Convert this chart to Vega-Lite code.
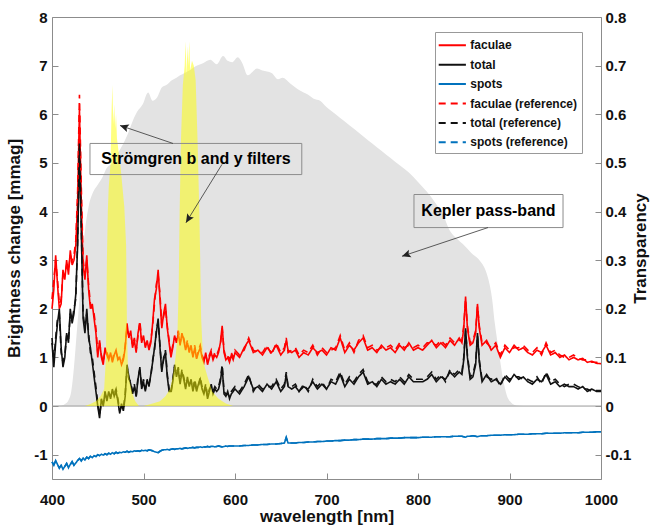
{
"$schema":"https://vega.github.io/schema/vega-lite/v6.json",
"width":549,"height":462,
"autosize":{"type":"none"},
"padding":{"left":52,"top":17,"right":56,"bottom":49},
"background":"white",
"config":{
 "font":"Liberation Sans",
 "view":{"stroke":"#8c8c8c","strokeWidth":1},
 "axis":{"labelFont":"Liberation Sans","labelFontWeight":"bold","labelFontSize":15,"labelColor":"#111","labelFlush":false,"titleFont":"Liberation Sans","titleFontWeight":"bold","titleFontSize":17,"titleColor":"#111","domain":false,"grid":false,"tickColor":"#8c8c8c","tickWidth":1}
},
"datasets":{
 "spec":[
{"w":400,"f":2.0,"t":1.3,"s":-1.15,"fr":2.2,"tr":1.4,"sr":-1.15},
{"w":402,"f":2.4,"t":0.8,"s":-1.22,"fr":2.6,"tr":0.9,"sr":-1.2},
{"w":404,"f":3.1,"t":1.3,"s":-1.12,"fr":3.0,"tr":1.4,"sr":-1.13},
{"w":406,"f":2.5,"t":1.7,"s":-1.2,"fr":2.6,"tr":1.8,"sr":-1.2},
{"w":408,"f":2.0,"t":2.0,"s":-1.28,"fr":2.1,"tr":1.9,"sr":-1.27},
{"w":410,"f":2.1,"t":1.2,"s":-1.22,"fr":2.2,"tr":1.1,"sr":-1.22},
{"w":412,"f":2.8,"t":0.8,"s":-1.3,"fr":2.7,"tr":0.9,"sr":-1.29},
{"w":414,"f":2.6,"t":1.0,"s":-1.24,"fr":2.7,"tr":1.05,"sr":-1.24},
{"w":416,"f":3.0,"t":1.5,"s":-1.18,"fr":2.9,"tr":1.45,"sr":-1.18},
{"w":418,"f":2.7,"t":1.3,"s":-1.27,"fr":2.8,"tr":1.35,"sr":-1.26},
{"w":420,"f":3.2,"t":2.0,"s":-1.2,"fr":3.1,"tr":1.9,"sr":-1.2},
{"w":422,"f":2.9,"t":1.7,"s":-1.14,"fr":3.0,"tr":1.75,"sr":-1.15},
{"w":424,"f":3.0,"t":1.9,"s":-1.22,"fr":3.1,"tr":2.0,"sr":-1.21},
{"w":426,"f":3.3,"t":2.3,"s":-1.17,"fr":3.4,"tr":2.2,"sr":-1.17},
{"w":428,"f":4.2,"t":3.3,"s":-1.12,"fr":4.4,"tr":3.4,"sr":-1.12},
{"w":430,"f":6.1,"t":5.3,"s":-1.08,"fr":6.4,"tr":5.4,"sr":-1.08},
{"w":432,"f":4.2,"t":3.6,"s":-1.13,"fr":4.5,"tr":3.7,"sr":-1.12},
{"w":434,"f":2.9,"t":1.8,"s":-1.07,"fr":3.0,"tr":1.9,"sr":-1.07},
{"w":436,"f":2.6,"t":1.5,"s":-1.11,"fr":2.7,"tr":1.6,"sr":-1.1},
{"w":438,"f":3.1,"t":2.0,"s":-1.05,"fr":3.0,"tr":1.9,"sr":-1.05},
{"w":440,"f":2.4,"t":1.4,"s":-1.08,"fr":2.5,"tr":1.5,"sr":-1.08},
{"w":442,"f":2.0,"t":1.2,"s":-1.03,"fr":2.1,"tr":1.1,"sr":-1.03},
{"w":444,"f":2.1,"t":0.9,"s":-1.06,"fr":2.0,"tr":1.0,"sr":-1.06},
{"w":446,"f":1.8,"t":0.6,"s":-1.02,"fr":1.9,"tr":0.7,"sr":-1.02},
{"w":448,"f":1.5,"t":0.3,"s":-1.04,"fr":1.6,"tr":0.4,"sr":-1.04},
{"w":450,"f":1.0,"t":0.0,"s":-1.0,"fr":1.1,"tr":0.05,"sr":-1.0},
{"w":452,"f":1.35,"t":-0.25,"s":-1.02,"fr":1.3,"tr":-0.2,"sr":-1.02},
{"w":454,"f":1.0,"t":0.15,"s":-0.99,"fr":1.05,"tr":0.1,"sr":-0.99},
{"w":456,"f":0.85,"t":0.0,"s":-1.01,"fr":0.9,"tr":0.05,"sr":-1.01},
{"w":458,"f":1.2,"t":0.3,"s":-0.98,"fr":1.15,"tr":0.25,"sr":-0.98},
{"w":460,"f":1.05,"t":0.1,"s":-1.0,"fr":1.1,"tr":0.15,"sr":-1.0},
{"w":462,"f":0.95,"t":0.3,"s":-0.97,"fr":1.0,"tr":0.25,"sr":-0.97},
{"w":464,"f":1.1,"t":0.15,"s":-0.99,"fr":1.05,"tr":0.2,"sr":-0.99},
{"w":466,"f":0.9,"t":0.35,"s":-0.96,"fr":0.95,"tr":0.3,"sr":-0.96},
{"w":468,"f":1.05,"t":0.2,"s":-0.98,"fr":1.1,"tr":0.25,"sr":-0.98},
{"w":470,"f":1.15,"t":0.3,"s":-0.95,"fr":1.1,"tr":0.35,"sr":-0.95},
{"w":472,"f":0.95,"t":0.1,"s":-0.97,"fr":1.0,"tr":0.15,"sr":-0.97},
{"w":474,"f":1.0,"t":-0.15,"s":-0.95,"fr":0.95,"tr":-0.1,"sr":-0.95},
{"w":476,"f":0.85,"t":0.05,"s":-0.96,"fr":0.9,"tr":0.0,"sr":-0.96},
{"w":478,"f":0.95,"t":-0.1,"s":-0.94,"fr":1.0,"tr":-0.05,"sr":-0.94},
{"w":480,"f":1.2,"t":0.2,"s":-0.95,"fr":1.25,"tr":0.25,"sr":-0.95},
{"w":482,"f":1.7,"t":0.85,"s":-0.93,"fr":1.6,"tr":0.8,"sr":-0.93},
{"w":484,"f":1.4,"t":0.6,"s":-0.95,"fr":1.45,"tr":0.55,"sr":-0.95},
{"w":486,"f":1.55,"t":0.45,"s":-0.93,"fr":1.5,"tr":0.5,"sr":-0.93},
{"w":488,"f":1.2,"t":0.25,"s":-0.94,"fr":1.25,"tr":0.3,"sr":-0.94},
{"w":490,"f":1.35,"t":0.4,"s":-0.92,"fr":1.4,"tr":0.45,"sr":-0.92},
{"w":492,"f":1.1,"t":0.2,"s":-0.93,"fr":1.15,"tr":0.2,"sr":-0.93},
{"w":494,"f":1.5,"t":0.55,"s":-0.92,"fr":1.45,"tr":0.6,"sr":-0.92},
{"w":496,"f":1.7,"t":0.8,"s":-0.93,"fr":1.75,"tr":0.75,"sr":-0.93},
{"w":498,"f":1.3,"t":0.35,"s":-0.91,"fr":1.35,"tr":0.4,"sr":-0.91},
{"w":500,"f":1.45,"t":0.5,"s":-0.92,"fr":1.4,"tr":0.55,"sr":-0.92},
{"w":502,"f":1.2,"t":0.3,"s":-0.91,"fr":1.25,"tr":0.35,"sr":-0.91},
{"w":504,"f":1.35,"t":0.55,"s":-0.92,"fr":1.3,"tr":0.5,"sr":-0.92},
{"w":506,"f":1.15,"t":0.4,"s":-0.9,"fr":1.2,"tr":0.45,"sr":-0.9},
{"w":508,"f":1.3,"t":0.65,"s":-0.91,"fr":1.35,"tr":0.6,"sr":-0.91},
{"w":510,"f":1.7,"t":0.9,"s":-0.92,"fr":1.65,"tr":0.95,"sr":-0.92},
{"w":512,"f":2.2,"t":1.2,"s":-0.94,"fr":2.1,"tr":1.15,"sr":-0.94},
{"w":514,"f":2.4,"t":1.5,"s":-0.95,"fr":2.5,"tr":1.55,"sr":-0.95},
{"w":516,"f":2.8,"t":1.8,"s":-0.96,"fr":2.7,"tr":1.75,"sr":-0.96},
{"w":518,"f":2.2,"t":1.2,"s":-0.93,"fr":2.3,"tr":1.25,"sr":-0.93},
{"w":520,"f":1.6,"t":0.7,"s":-0.91,"fr":1.65,"tr":0.75,"sr":-0.91},
{"w":522,"f":1.9,"t":1.0,"s":-0.9,"fr":1.85,"tr":0.95,"sr":-0.9},
{"w":524,"f":2.1,"t":1.1,"s":-0.9,"fr":2.0,"tr":1.15,"sr":-0.9},
{"w":526,"f":1.6,"t":0.6,"s":-0.89,"fr":1.65,"tr":0.65,"sr":-0.89},
{"w":528,"f":1.3,"t":0.3,"s":-0.9,"fr":1.35,"tr":0.35,"sr":-0.9},
{"w":530,"f":1.0,"t":0.3,"s":-0.89,"fr":1.05,"tr":0.25,"sr":-0.89},
{"w":532,"f":1.2,"t":0.5,"s":-0.88,"fr":1.25,"tr":0.55,"sr":-0.88},
{"w":534,"f":1.45,"t":0.85,"s":-0.89,"fr":1.4,"tr":0.8,"sr":-0.89},
{"w":536,"f":1.3,"t":0.6,"s":-0.88,"fr":1.35,"tr":0.65,"sr":-0.88},
{"w":538,"f":1.5,"t":0.75,"s":-0.88,"fr":1.55,"tr":0.8,"sr":-0.88},
{"w":540,"f":1.25,"t":0.45,"s":-0.87,"fr":1.3,"tr":0.5,"sr":-0.87},
{"w":542,"f":1.5,"t":0.7,"s":-0.88,"fr":1.45,"tr":0.75,"sr":-0.88},
{"w":544,"f":1.35,"t":0.55,"s":-0.87,"fr":1.4,"tr":0.6,"sr":-0.87},
{"w":546,"f":1.15,"t":0.35,"s":-0.86,"fr":1.2,"tr":0.4,"sr":-0.86},
{"w":548,"f":1.3,"t":0.6,"s":-0.87,"fr":1.35,"tr":0.55,"sr":-0.87},
{"w":550,"f":1.1,"t":0.4,"s":-0.86,"fr":1.15,"tr":0.45,"sr":-0.86},
{"w":552,"f":1.25,"t":0.55,"s":-0.86,"fr":1.2,"tr":0.5,"sr":-0.86},
{"w":554,"f":1.0,"t":0.3,"s":-0.85,"fr":1.05,"tr":0.35,"sr":-0.85},
{"w":556,"f":1.2,"t":0.5,"s":-0.86,"fr":1.25,"tr":0.55,"sr":-0.86},
{"w":558,"f":0.97,"t":0.3,"s":-0.85,"fr":1.0,"tr":0.35,"sr":-0.85},
{"w":560,"f":1.1,"t":0.45,"s":-0.85,"fr":1.15,"tr":0.4,"sr":-0.85},
{"w":562,"f":1.2,"t":0.55,"s":-0.84,"fr":1.25,"tr":0.6,"sr":-0.84},
{"w":564,"f":1.0,"t":0.35,"s":-0.85,"fr":1.05,"tr":0.4,"sr":-0.85},
{"w":566,"f":0.9,"t":0.25,"s":-0.84,"fr":0.95,"tr":0.3,"sr":-0.84},
{"w":568,"f":1.1,"t":0.4,"s":-0.84,"fr":1.05,"tr":0.45,"sr":-0.84},
{"w":570,"f":0.85,"t":0.15,"s":-0.83,"fr":0.9,"tr":0.2,"sr":-0.83},
{"w":572,"f":1.0,"t":0.3,"s":-0.84,"fr":1.05,"tr":0.35,"sr":-0.84},
{"w":574,"f":1.1,"t":0.45,"s":-0.83,"fr":1.15,"tr":0.4,"sr":-0.83},
{"w":576,"f":0.95,"t":0.25,"s":-0.83,"fr":1.0,"tr":0.3,"sr":-0.83},
{"w":578,"f":1.05,"t":0.35,"s":-0.84,"fr":1.1,"tr":0.4,"sr":-0.84},
{"w":580,"f":1.0,"t":0.3,"s":-0.83,"fr":1.05,"tr":0.35,"sr":-0.83},
{"w":582,"f":1.1,"t":0.35,"s":-0.82,"fr":1.15,"tr":0.4,"sr":-0.82},
{"w":584,"f":1.3,"t":0.5,"s":-0.83,"fr":1.25,"tr":0.55,"sr":-0.83},
{"w":586,"f":1.65,"t":0.8,"s":-0.84,"fr":1.6,"tr":0.85,"sr":-0.84},
{"w":588,"f":1.1,"t":0.25,"s":-0.83,"fr":1.15,"tr":0.3,"sr":-0.83},
{"w":590,"f":0.95,"t":0.2,"s":-0.82,"fr":1.0,"tr":0.25,"sr":-0.82},
{"w":592,"f":1.0,"t":0.3,"s":-0.83,"fr":1.05,"tr":0.25,"sr":-0.83},
{"w":594,"f":0.9,"t":0.15,"s":-0.82,"fr":0.95,"tr":0.2,"sr":-0.82},
{"w":596,"f":1.05,"t":0.25,"s":-0.82,"fr":1.1,"tr":0.3,"sr":-0.82},
{"w":598,"f":0.95,"t":0.3,"s":-0.82,"fr":1.0,"tr":0.35,"sr":-0.82},
{"w":600,"f":1.1,"t":0.35,"s":-0.82,"fr":1.15,"tr":0.4,"sr":-0.82},
{"w":605,"f":1.0,"t":0.25,"s":-0.82,"fr":1.05,"tr":0.3,"sr":-0.82},
{"w":610,"f":1.2,"t":0.4,"s":-0.81,"fr":1.15,"tr":0.45,"sr":-0.81},
{"w":615,"f":1.35,"t":0.6,"s":-0.81,"fr":1.4,"tr":0.65,"sr":-0.81},
{"w":620,"f":1.1,"t":0.35,"s":-0.8,"fr":1.15,"tr":0.3,"sr":-0.8},
{"w":625,"f":1.15,"t":0.4,"s":-0.8,"fr":1.1,"tr":0.45,"sr":-0.8},
{"w":630,"f":1.05,"t":0.3,"s":-0.79,"fr":1.1,"tr":0.35,"sr":-0.79},
{"w":635,"f":1.2,"t":0.45,"s":-0.79,"fr":1.25,"tr":0.4,"sr":-0.79},
{"w":640,"f":1.1,"t":0.35,"s":-0.78,"fr":1.05,"tr":0.4,"sr":-0.78},
{"w":645,"f":1.25,"t":0.5,"s":-0.78,"fr":1.3,"tr":0.55,"sr":-0.78},
{"w":650,"f":1.05,"t":0.3,"s":-0.77,"fr":1.1,"tr":0.35,"sr":-0.77},
{"w":654,"f":1.15,"t":0.4,"s":-0.76,"fr":1.2,"tr":0.45,"sr":-0.76},
{"w":656,"f":1.35,"t":0.65,"s":-0.65,"fr":1.4,"tr":0.7,"sr":-0.64},
{"w":658,"f":1.15,"t":0.4,"s":-0.76,"fr":1.1,"tr":0.4,"sr":-0.76},
{"w":662,"f":1.1,"t":0.35,"s":-0.76,"fr":1.15,"tr":0.4,"sr":-0.76},
{"w":666,"f":1.15,"t":0.4,"s":-0.76,"fr":1.2,"tr":0.45,"sr":-0.76},
{"w":670,"f":1.0,"t":0.3,"s":-0.75,"fr":1.05,"tr":0.3,"sr":-0.75},
{"w":675,"f":1.1,"t":0.4,"s":-0.75,"fr":1.15,"tr":0.45,"sr":-0.75},
{"w":680,"f":1.05,"t":0.35,"s":-0.74,"fr":1.1,"tr":0.3,"sr":-0.74},
{"w":685,"f":1.2,"t":0.5,"s":-0.74,"fr":1.25,"tr":0.55,"sr":-0.74},
{"w":690,"f":1.1,"t":0.35,"s":-0.73,"fr":1.05,"tr":0.4,"sr":-0.73},
{"w":695,"f":1.15,"t":0.45,"s":-0.73,"fr":1.2,"tr":0.5,"sr":-0.73},
{"w":700,"f":1.05,"t":0.35,"s":-0.72,"fr":1.1,"tr":0.35,"sr":-0.72},
{"w":705,"f":1.2,"t":0.5,"s":-0.72,"fr":1.15,"tr":0.55,"sr":-0.72},
{"w":710,"f":1.15,"t":0.45,"s":-0.71,"fr":1.2,"tr":0.5,"sr":-0.71},
{"w":715,"f":1.4,"t":0.65,"s":-0.71,"fr":1.45,"tr":0.7,"sr":-0.71},
{"w":720,"f":1.1,"t":0.4,"s":-0.7,"fr":1.15,"tr":0.45,"sr":-0.7},
{"w":725,"f":1.25,"t":0.55,"s":-0.7,"fr":1.3,"tr":0.6,"sr":-0.7},
{"w":730,"f":1.15,"t":0.45,"s":-0.69,"fr":1.1,"tr":0.5,"sr":-0.69},
{"w":735,"f":1.3,"t":0.6,"s":-0.69,"fr":1.35,"tr":0.65,"sr":-0.69},
{"w":740,"f":1.4,"t":0.7,"s":-0.68,"fr":1.45,"tr":0.75,"sr":-0.68},
{"w":745,"f":1.15,"t":0.45,"s":-0.68,"fr":1.2,"tr":0.5,"sr":-0.68},
{"w":750,"f":1.2,"t":0.5,"s":-0.68,"fr":1.25,"tr":0.45,"sr":-0.68},
{"w":755,"f":1.1,"t":0.4,"s":-0.67,"fr":1.15,"tr":0.45,"sr":-0.67},
{"w":760,"f":1.25,"t":0.55,"s":-0.67,"fr":1.2,"tr":0.6,"sr":-0.67},
{"w":765,"f":1.15,"t":0.45,"s":-0.67,"fr":1.2,"tr":0.5,"sr":-0.67},
{"w":770,"f":1.2,"t":0.5,"s":-0.66,"fr":1.25,"tr":0.55,"sr":-0.66},
{"w":775,"f":1.1,"t":0.45,"s":-0.66,"fr":1.15,"tr":0.5,"sr":-0.66},
{"w":780,"f":1.25,"t":0.55,"s":-0.66,"fr":1.3,"tr":0.6,"sr":-0.66},
{"w":785,"f":1.15,"t":0.45,"s":-0.65,"fr":1.2,"tr":0.5,"sr":-0.65},
{"w":790,"f":1.3,"t":0.6,"s":-0.65,"fr":1.25,"tr":0.65,"sr":-0.65},
{"w":795,"f":1.15,"t":0.5,"s":-0.65,"fr":1.2,"tr":0.55,"sr":-0.65},
{"w":800,"f":1.2,"t":0.5,"s":-0.65,"fr":1.25,"tr":0.55,"sr":-0.65},
{"w":805,"f":1.15,"t":0.5,"s":-0.64,"fr":1.2,"tr":0.55,"sr":-0.64},
{"w":810,"f":1.25,"t":0.55,"s":-0.64,"fr":1.3,"tr":0.6,"sr":-0.64},
{"w":815,"f":1.35,"t":0.65,"s":-0.64,"fr":1.3,"tr":0.7,"sr":-0.64},
{"w":820,"f":1.2,"t":0.5,"s":-0.63,"fr":1.25,"tr":0.55,"sr":-0.63},
{"w":825,"f":1.3,"t":0.6,"s":-0.63,"fr":1.35,"tr":0.65,"sr":-0.63},
{"w":830,"f":1.2,"t":0.55,"s":-0.63,"fr":1.25,"tr":0.5,"sr":-0.63},
{"w":835,"f":1.35,"t":0.7,"s":-0.63,"fr":1.4,"tr":0.75,"sr":-0.63},
{"w":840,"f":1.25,"t":0.6,"s":-0.62,"fr":1.3,"tr":0.65,"sr":-0.62},
{"w":845,"f":1.4,"t":0.7,"s":-0.62,"fr":1.35,"tr":0.75,"sr":-0.62},
{"w":848,"f":1.3,"t":0.65,"s":-0.62,"fr":1.35,"tr":0.7,"sr":-0.62},
{"w":850,"f":1.6,"t":0.95,"s":-0.63,"fr":1.65,"tr":1.0,"sr":-0.63},
{"w":852,"f":2.25,"t":1.6,"s":-0.64,"fr":2.2,"tr":1.55,"sr":-0.64},
{"w":854,"f":1.6,"t":1.0,"s":-0.62,"fr":1.65,"tr":1.05,"sr":-0.62},
{"w":857,"f":1.25,"t":0.55,"s":-0.62,"fr":1.3,"tr":0.6,"sr":-0.62},
{"w":860,"f":1.3,"t":0.6,"s":-0.61,"fr":1.35,"tr":0.65,"sr":-0.61},
{"w":863,"f":1.5,"t":0.85,"s":-0.62,"fr":1.55,"tr":0.9,"sr":-0.62},
{"w":865,"f":2.1,"t":1.5,"s":-0.63,"fr":2.05,"tr":1.45,"sr":-0.63},
{"w":867,"f":1.6,"t":0.9,"s":-0.62,"fr":1.65,"tr":0.95,"sr":-0.62},
{"w":870,"f":1.25,"t":0.5,"s":-0.61,"fr":1.3,"tr":0.55,"sr":-0.61},
{"w":875,"f":1.35,"t":0.65,"s":-0.61,"fr":1.3,"tr":0.6,"sr":-0.61},
{"w":880,"f":1.15,"t":0.5,"s":-0.6,"fr":1.2,"tr":0.55,"sr":-0.6},
{"w":885,"f":1.25,"t":0.55,"s":-0.6,"fr":1.3,"tr":0.6,"sr":-0.6},
{"w":890,"f":1.0,"t":0.45,"s":-0.6,"fr":1.05,"tr":0.4,"sr":-0.6},
{"w":895,"f":1.2,"t":0.6,"s":-0.59,"fr":1.25,"tr":0.65,"sr":-0.59},
{"w":900,"f":1.1,"t":0.5,"s":-0.59,"fr":1.15,"tr":0.55,"sr":-0.59},
{"w":905,"f":1.25,"t":0.65,"s":-0.59,"fr":1.2,"tr":0.6,"sr":-0.59},
{"w":910,"f":1.15,"t":0.55,"s":-0.58,"fr":1.2,"tr":0.6,"sr":-0.58},
{"w":915,"f":1.2,"t":0.6,"s":-0.58,"fr":1.25,"tr":0.55,"sr":-0.58},
{"w":920,"f":1.1,"t":0.5,"s":-0.58,"fr":1.15,"tr":0.55,"sr":-0.58},
{"w":925,"f":1.05,"t":0.45,"s":-0.57,"fr":1.1,"tr":0.5,"sr":-0.57},
{"w":930,"f":1.15,"t":0.55,"s":-0.57,"fr":1.2,"tr":0.6,"sr":-0.57},
{"w":935,"f":1.1,"t":0.5,"s":-0.57,"fr":1.05,"tr":0.45,"sr":-0.57},
{"w":940,"f":1.25,"t":0.65,"s":-0.56,"fr":1.3,"tr":0.7,"sr":-0.56},
{"w":945,"f":1.05,"t":0.45,"s":-0.56,"fr":1.1,"tr":0.5,"sr":-0.56},
{"w":950,"f":1.1,"t":0.5,"s":-0.56,"fr":1.15,"tr":0.55,"sr":-0.56},
{"w":955,"f":1.0,"t":0.4,"s":-0.56,"fr":1.05,"tr":0.45,"sr":-0.56},
{"w":960,"f":1.05,"t":0.45,"s":-0.55,"fr":1.0,"tr":0.4,"sr":-0.55},
{"w":965,"f":0.95,"t":0.4,"s":-0.55,"fr":1.0,"tr":0.45,"sr":-0.55},
{"w":970,"f":1.0,"t":0.4,"s":-0.55,"fr":1.05,"tr":0.45,"sr":-0.55},
{"w":975,"f":0.95,"t":0.35,"s":-0.55,"fr":0.98,"tr":0.4,"sr":-0.55},
{"w":980,"f":0.98,"t":0.4,"s":-0.54,"fr":0.95,"tr":0.35,"sr":-0.54},
{"w":985,"f":0.9,"t":0.3,"s":-0.54,"fr":0.95,"tr":0.35,"sr":-0.54},
{"w":990,"f":0.92,"t":0.35,"s":-0.54,"fr":0.9,"tr":0.3,"sr":-0.54},
{"w":995,"f":0.88,"t":0.3,"s":-0.53,"fr":0.9,"tr":0.32,"sr":-0.53},
{"w":1000,"f":0.87,"t":0.3,"s":-0.53,"fr":0.88,"tr":0.32,"sr":-0.53}
 ],
 "kepler":[
{"w":400,"k":0},{"w":410,"k":0.001},{"w":415,"k":0.005},{"w":418,"k":0.012},{"w":421,"k":0.03},{"w":424,"k":0.08},{"w":427,"k":0.15},{"w":430,"k":0.22},{"w":433,"k":0.3},{"w":436,"k":0.36},{"w":440,"k":0.41},{"w":445,"k":0.44},{"w":450,"k":0.455},{"w":455,"k":0.47},{"w":460,"k":0.49},{"w":466,"k":0.5},{"w":472,"k":0.52},{"w":478,"k":0.54},{"w":483,"k":0.56},{"w":488,"k":0.585},{"w":493,"k":0.605},{"w":499,"k":0.62},{"w":505,"k":0.645},{"w":510,"k":0.628},{"w":515,"k":0.635},{"w":520,"k":0.655},{"w":525,"k":0.66},{"w":531,"k":0.67},{"w":536,"k":0.675},{"w":540,"k":0.68},{"w":545,"k":0.685},{"w":550,"k":0.69},{"w":558,"k":0.7},{"w":565,"k":0.705},{"w":573,"k":0.712},{"w":580,"k":0.703},{"w":587,"k":0.72},{"w":592,"k":0.71},{"w":597,"k":0.707},{"w":603,"k":0.717},{"w":608,"k":0.705},{"w":614,"k":0.68},{"w":619,"k":0.687},{"w":624,"k":0.694},{"w":630,"k":0.69},{"w":640,"k":0.685},{"w":647,"k":0.672},{"w":652,"k":0.675},{"w":660,"k":0.664},{"w":670,"k":0.65},{"w":680,"k":0.64},{"w":686,"k":0.632},{"w":693,"k":0.628},{"w":700,"k":0.615},{"w":710,"k":0.6},{"w":720,"k":0.585},{"w":730,"k":0.57},{"w":740,"k":0.555},{"w":750,"k":0.54},{"w":760,"k":0.525},{"w":770,"k":0.51},{"w":780,"k":0.495},{"w":790,"k":0.48},{"w":799,"k":0.463},{"w":810,"k":0.44},{"w":820,"k":0.415},{"w":827,"k":0.395},{"w":835,"k":0.36},{"w":842,"k":0.345},{"w":849,"k":0.333},{"w":858,"k":0.315},{"w":868,"k":0.298},{"w":873,"k":0.283},{"w":877,"k":0.26},{"w":881,"k":0.22},{"w":884,"k":0.17},{"w":887,"k":0.13},{"w":890,"k":0.09},{"w":893,"k":0.055},{"w":897,"k":0.022},{"w":902,"k":0.007},{"w":908,"k":0.001},{"w":915,"k":0},{"w":1000,"k":0}
 ],
 "filters":[
{"band":"b","w":436,"q":0},{"band":"b","w":442,"q":0.004},{"band":"b","w":448,"q":0.01},{"band":"b","w":453,"q":0.02},{"band":"b","w":457,"q":0.035},{"band":"b","w":459,"q":0.1},{"band":"b","w":460,"q":0.3},{"band":"b","w":461,"q":0.4},{"band":"b","w":462,"q":0.45},{"band":"b","w":464,"q":0.5},{"band":"b","w":465,"q":0.6},{"band":"b","w":466,"q":0.66},{"band":"b","w":467,"q":0.58},{"band":"b","w":468,"q":0.62},{"band":"b","w":469,"q":0.57},{"band":"b","w":470,"q":0.6},{"band":"b","w":471,"q":0.55},{"band":"b","w":473,"q":0.52},{"band":"b","w":475,"q":0.49},{"band":"b","w":477,"q":0.45},{"band":"b","w":479,"q":0.41},{"band":"b","w":481,"q":0.33},{"band":"b","w":482,"q":0.15},{"band":"b","w":483,"q":0.08},{"band":"b","w":485,"q":0.05},{"band":"b","w":488,"q":0.025},{"band":"b","w":491,"q":0.01},{"band":"b","w":495,"q":0},
{"band":"y","w":500,"q":0},{"band":"y","w":510,"q":0.005},{"band":"y","w":518,"q":0.01},{"band":"y","w":524,"q":0.02},{"band":"y","w":529,"q":0.035},{"band":"y","w":532,"q":0.06},{"band":"y","w":535,"q":0.1},{"band":"y","w":537,"q":0.14},{"band":"y","w":538.5,"q":0.25},{"band":"y","w":539.5,"q":0.4},{"band":"y","w":541,"q":0.55},{"band":"y","w":543,"q":0.66},{"band":"y","w":545,"q":0.7},{"band":"y","w":546,"q":0.75},{"band":"y","w":547,"q":0.68},{"band":"y","w":548,"q":0.74},{"band":"y","w":549,"q":0.7},{"band":"y","w":550,"q":0.75},{"band":"y","w":551,"q":0.69},{"band":"y","w":553,"q":0.71},{"band":"y","w":555,"q":0.7},{"band":"y","w":557,"q":0.67},{"band":"y","w":559,"q":0.55},{"band":"y","w":561,"q":0.4},{"band":"y","w":562,"q":0.3},{"band":"y","w":563,"q":0.18},{"band":"y","w":565,"q":0.1},{"band":"y","w":567,"q":0.08},{"band":"y","w":570,"q":0.06},{"band":"y","w":575,"q":0.03},{"band":"y","w":582,"q":0.015},{"band":"y","w":590,"q":0.005},{"band":"y","w":598,"q":0}
 ],
 "boxes":[
{"label":"Strömgren b and y filters","x1":441.5,"x2":673,"y1":5.4,"y2":4.76,"xc":557.3,"yc":5.08},
{"label":"Kepler pass-band","x1":795.6,"x2":958.5,"y1":4.35,"y2":3.67,"xc":877,"yc":4.01}
 ],
 "arrows":[
{"x1":532.2,"y1":5.4,"x2":474.3,"y2":5.77,"ang":289},
{"x1":585.8,"y1":4.97,"x2":546.4,"y2":3.77,"ang":212},
{"x1":876.5,"y1":3.67,"x2":782.5,"y2":3.08,"ang":251}
 ]
},
"resolve":{"scale":{"y":"independent"},"axis":{"x":"independent","y":"independent"}},
"layer":[
 {
  "data":{"name":"kepler"},
  "mark":{"type":"area","color":"#e3e3e3","opacity":1,"interpolate":"monotone"},
  "encoding":{
   "x":{"field":"w","type":"quantitative","scale":{"domain":[400,1000],"nice":false,"zero":false},
        "axis":{"orient":"bottom","values":[400,500,600,700,800,900,1000],"tickSize":-6,"labelPadding":19,"labelExpr":"'' + datum.value","title":"wavelength [nm]","titlePadding":1}},
   "y":{"field":"k","type":"quantitative","scale":{"domain":[-0.15,0.8],"nice":false,"zero":false},
        "axis":{"orient":"right","values":[-0.1,0,0.1,0.2,0.3,0.4,0.5,0.6,0.7,0.8],"tickSize":-6,"labelPadding":10,"labelExpr":"'' + datum.value","title":"Transparency","titleAngle":270,"titleBaseline":"top","titlePadding":2}}
  }
 },
 {
  "layer":[
   {
    "data":{"values":[{"a":400,"b":1000}]},
    "mark":{"type":"rule","color":"#9a9a9a","strokeWidth":1},
    "encoding":{"x":{"field":"a","type":"quantitative","axis":null},"x2":{"field":"b"},"y":{"datum":0,"type":"quantitative"}}
   },
   {
    "data":{"name":"spec"},
    "transform":[{"fold":["f","t","s","fr","tr","sr"],"as":["key","val"]}],
    "mark":{"type":"line","strokeWidth":1.6},
    "encoding":{
     "x":{"field":"w","type":"quantitative","axis":{"orient":"top","labels":false,"title":null,"tickSize":-6,"values":[400,500,600,700,800,900,1000]}},
     "y":{"field":"val","type":"quantitative"},
     "color":{"field":"key","type":"nominal","sort":null,
       "scale":{"domain":["f","t","s","fr","tr","sr"],"range":["#ff0000","#111111","#0072bd","#ff0000","#111111","#0072bd"]},
       "legend":{"orient":"none","legendX":383,"legendY":15,"title":null,"symbolType":"M-1.7,0H1.7","symbolSize":256,"symbolStrokeWidth":2,"symbolOffset":4,"labelOffset":9,"labelFontSize":12,"labelFontWeight":"bold","labelFont":"Liberation Sans","labelColor":"#111","rowPadding":4.4,"padding":4.3,"strokeColor":"#999","fillColor":"#ffffff",
         "labelExpr":"datum.label == 'f' ? 'faculae' : datum.label == 't' ? 'total' : datum.label == 's' ? 'spots' : datum.label == 'fr' ? 'faculae (reference)' : datum.label == 'tr' ? 'total (reference)' : 'spots (reference)'"}},
     "strokeDash":{"field":"key","type":"nominal","sort":null,
       "scale":{"domain":["f","t","s","fr","tr","sr"],"range":[[1,0],[1,0],[1,0],[7,5],[7,5],[7,5]]},
       "legend":{"orient":"none","legendX":383,"legendY":15,"title":null,"symbolType":"M-1.7,0H1.7","symbolSize":256,"symbolStrokeWidth":2,"symbolOffset":4,"labelOffset":9,"labelFontSize":12,"labelFontWeight":"bold","labelFont":"Liberation Sans","labelColor":"#111","rowPadding":4.4,"padding":4.3,"strokeColor":"#999","fillColor":"#ffffff",
         "labelExpr":"datum.label == 'f' ? 'faculae' : datum.label == 't' ? 'total' : datum.label == 's' ? 'spots' : datum.label == 'fr' ? 'faculae (reference)' : datum.label == 'tr' ? 'total (reference)' : 'spots (reference)'"}}
    }
   }
  ],
  "encoding":{
   "y":{"scale":{"domain":[-1.5,8],"nice":false,"zero":false},
        "axis":{"orient":"left","values":[-1,0,1,2,3,4,5,6,7,8],"tickSize":-6,"labelPadding":11,"labelExpr":"'' + datum.value","title":"Brightness change [mmag]","titlePadding":10}}
  }
 },
 {
  "data":{"name":"filters"},
  "mark":{"type":"area","color":"#ffff00","opacity":0.5},
  "encoding":{
   "x":{"field":"w","type":"quantitative","axis":null},
   "y":{"field":"q","type":"quantitative","scale":{"domain":[-0.15,0.8],"nice":false,"zero":false},"axis":null},
   "detail":{"field":"band"}
  }
 },
 {
  "layer":[
   {
    "data":{"name":"boxes"},
    "mark":{"type":"rect","fill":null,"fillOpacity":0,"stroke":"#8c8c8c","strokeWidth":1},
    "encoding":{"x":{"field":"x1","type":"quantitative","axis":null},"x2":{"field":"x2"},"y":{"field":"y1","type":"quantitative","axis":null},"y2":{"field":"y2"}}
   },
   {
    "data":{"name":"boxes"},
    "mark":{"type":"text","font":"Liberation Sans","fontWeight":"bold","fontSize":16,"color":"#000","align":"center","baseline":"middle"},
    "encoding":{"x":{"field":"xc","type":"quantitative","axis":null},"y":{"field":"yc","type":"quantitative","axis":null},"text":{"field":"label"}}
   },
   {
    "data":{"name":"arrows"},
    "mark":{"type":"rule","color":"#333","strokeWidth":0.8},
    "encoding":{"x":{"field":"x1","type":"quantitative","axis":null},"x2":{"field":"x2"},"y":{"field":"y1","type":"quantitative","axis":null},"y2":{"field":"y2"}}
   },
   {
    "data":{"name":"arrows"},
    "mark":{"type":"point","shape":"M0,0L-0.45,1L0,0.8L0.45,1Z","filled":true,"color":"#222","opacity":1,"size":300},
    "encoding":{"x":{"field":"x2","type":"quantitative","axis":null},"y":{"field":"y2","type":"quantitative","axis":null},"angle":{"field":"ang","type":"quantitative","scale":null}}
   }
  ],
  "encoding":{"y":{"scale":{"domain":[-1.5,8],"nice":false,"zero":false}}}
 }
]
}
